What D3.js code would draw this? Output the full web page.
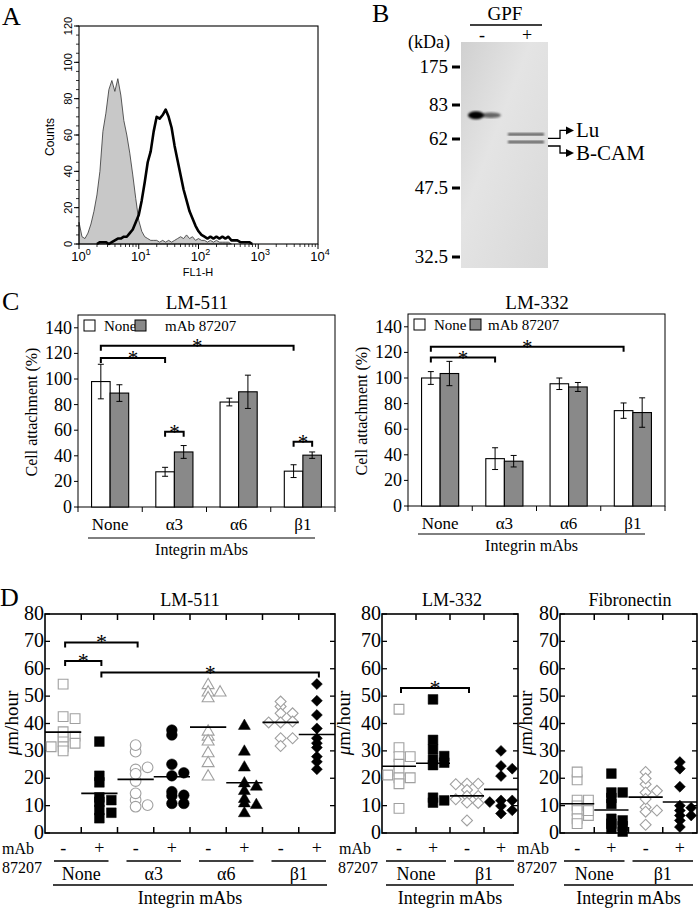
<!DOCTYPE html>
<html><head><meta charset="utf-8">
<script src="https://cdn.jsdelivr.net/npm/d3@7"></script>
<style>
body{margin:0;background:#fff}svg{display:block}
svg text{font-family:"Liberation Serif","Times New Roman",serif}
svg .sans text{font-family:"Liberation Sans",Arial,sans-serif}
</style>
</head><body><script>
// ================= DATA =================
// Panel A: flow cytometry histogram (x in log10 units of FL1-H)
const flowLogBins = [0,0.05,0.1,0.15,0.2,0.25,0.3,0.35,0.4,0.45,0.5,0.55,0.6,0.65,0.7,0.75,0.8,0.85,0.9,0.95,1,1.05,1.1,1.15,1.2,1.25,1.3,1.35,1.4,1.45,1.5,1.55,1.6,1.65,1.7,1.75,1.8,1.85,1.9,1.95,2,2.05,2.1,2.15,2.2,2.25,2.3,2.35,2.4,2.45,2.5,2.55,2.6,2.65,2.7,2.75,2.8,2.85,2.9,2.95,3];
const controlCounts = [12,4,3,6,11,18,27,40,62,72,85,90,84,91,82,68,60,50,38,25,13,7,4,3,2,2,2,1,2,1,2,1,2,3,4,3,5,3,4,2,3,2,2,1,2,1,2,1,1,1,1,0,null,null,null,null,null,null,null,null,null];
const stainedCounts = [null,null,null,null,null,null,0,1,1,1,0,1,2,3,3,4,4,6,8,12,16,24,34,45,51,62,70,69,71,74,70,64,54,46,38,30,24,18,14,10,7,5,4,3,4,3,4,3,4,3,4,2,2,2,1,1,1,1,0,null,null];
const countTicks = [0,20,40,60,80,100,120];
const decadeTicks = [1,10,100,1000,10000];

// Panel B: gel
const gelMarkers = [175,83,62,47.5,32.5];
const gelLanes = ['-','+'];
const gelBandLane = ['-','+','+'];
const gelBandKDa = [76,64.5,61];
const gelBandLabel = [null,'Lu','B-CAM'];

// Panel C: cell attachment (%)
const attachCats = ['None','α3','α6','β1'];
const attachTicks = [0,20,40,60,80,100,120,140];
const lm511Ctrl = [98,27.5,82,28];
const lm511CtrlErr = [13.5,3.5,3,5];
const lm511Mab = [89,43,90,40.5];
const lm511MabErr = [6.5,5,13,2.5];
const lm332Ctrl = [100,37,95.5,74.5];
const lm332CtrlErr = [5,8.5,4.5,6];
const lm332Mab = [103.5,35,93,73];
const lm332MabErr = [9.5,4.5,3.5,11.5];
const lm511GroupSig = [[0,1,116.5],[0,3,126]];
const lm511PairSig = [[1,58.7],[3,50.9]];
const lm332GroupSig = [[0,1,116],[0,3,124.5]];

// Panel D: migration speed (µm/hour)
const migTicks = [0,10,20,30,40,50,60,70,80];
const lm511Groups = ['None','α3','α6','β1'];
const lm511NoneCtrl = [54.4,42.5,37,35,33.3,31.5,30,41.8,35.4,32.8,31.5];
const lm511NoneMab = [33.4,18.5,13,11.4,8.4,5.4,20.9,12,7.4];
const lm511A3Ctrl = [29.7,23.2,19,12.1,9.6,32.1,21.6,10.2,24,14.5];
const lm511A3Mab = [35.8,25.1,20.9,15.1,13.6,10.8,37.6,22,13.8,10.8];
const lm511A6Ctrl = [54,51.3,49.2,35.2,29.1,20.6,51.3,37,33.4,25.5];
const lm511A6Mab = [39.1,29.7,23.9,18.1,15.3,10.8,7.2,16.9,12.4,10.2];
const lm511B1Ctrl = [46.2,43.7,40.4,34.6,31.8,48,43.7,40.7,40.4,34.6];
const lm511B1Mab = [54.4,48.3,38.2,32.8,27.9,23.3,43.1,34.6,31.2,26];
const lm511MigSig = [[0,2,69.6],[0,1,62.8],[1,7,58.6]];

const lm332Groups = ['None','β1'];
const lm332NoneCtrl = [45.2,31.2,27.9,25.1,22.6,20.2,18,9,27.9,20.2,21.2];
const lm332NoneMab = [48.8,30.6,26.9,24.8,12.9,11.1,34,28.1,25.7,11.9];
const lm332B1Ctrl = [18,15.7,13.5,11.1,4.6,18,17.8,13.5,12.3,11];
const lm332B1Mab = [30,24.5,20.8,11.9,9.9,7.1,23.5,11.9,11.3,8.3];
const lm332MigSig = [[0,2,53]];

const fnGroups = ['None','β1'];
const fnNoneCtrl = [19.4,12,9.9,8.2,5.2,3.4,22.3,12,6.4,8.2];
const fnNoneMab = [21.7,14.8,10.6,5.2,3.4,1.6,0.5,14.8,12.8,4.6,2.5];
const fnB1Ctrl = [22.3,17.8,14.8,9.4,7.8,3,19.9,15.4,12.4,8.2];
const fnB1Mab = [23.5,16.9,10,8.2,6.4,2.2,25.9,9.2,6.4,4.6];
const fnMigSig = [];

// ================= DRAWING =================
const svg = d3.select('body').append('svg').attr('width',700).attr('height',910);

[['A',2,25],['B',372,22],['C',2,310],['D',0,606]].forEach(([t,x,y])=>{
  svg.append('text').attr('x',x).attr('y',y).attr('font-size',26).text(t);
});

// ---------- Panel A ----------
(function(){
  const g = svg.append('g').attr('class','sans');
  const x = d3.scaleLog().domain([1,1e4]).range([79,318]);
  const y = d3.scaleLinear().domain([0,120]).range([244,26]);
  const ctrl = flowLogBins.map((b,i)=>({b,c:controlCounts[i]}));
  const st = flowLogBins.map((b,i)=>({b,c:stainedCounts[i]}));
  g.append('path')
    .attr('d', d3.area().defined(d=>d.c!=null).x(d=>x(Math.pow(10,d.b))).y0(y(0)).y1(d=>y(d.c))(ctrl))
    .attr('fill','#c8c8c8').attr('stroke','#333').attr('stroke-width',0.8);
  g.append('path')
    .attr('d', d3.line().defined(d=>d.c!=null).x(d=>x(Math.pow(10,d.b))).y(d=>y(d.c))(st))
    .attr('fill','none').attr('stroke','#000').attr('stroke-width',2.6).attr('stroke-linejoin','round');
  g.append('rect').attr('x',79).attr('y',26).attr('width',239).attr('height',218)
    .attr('fill','none').attr('stroke','#000').attr('stroke-width',1.1);
  const minor = [];
  decadeTicks.slice(0,-1).forEach(d=>{for(let k=2;k<10;k++) minor.push(d*k);});
  g.selectAll('.xm').data(minor).join('line').attr('x1',d=>x(d)).attr('x2',d=>x(d))
    .attr('y1',244).attr('y2',247).attr('stroke','#000').attr('stroke-width',0.8);
  g.selectAll('.xM').data(decadeTicks).join('line').attr('x1',d=>x(d)).attr('x2',d=>x(d))
    .attr('y1',244).attr('y2',249).attr('stroke','#000').attr('stroke-width',1);
  decadeTicks.forEach(d=>{
    const t = g.append('text').attr('x',x(d)+2).attr('y',261).attr('text-anchor','middle').attr('font-size',13);
    t.append('tspan').text('10');
    t.append('tspan').attr('dy',-6).attr('font-size',9).text(Math.round(Math.log10(d)));
  });
  g.append('text').attr('x',198).attr('y',276).attr('text-anchor','middle').attr('font-size',11).text('FL1-H');
  g.selectAll('.ym').data(y.ticks(24)).join('line').attr('x1',76).attr('x2',79)
    .attr('y1',d=>y(d)).attr('y2',d=>y(d)).attr('stroke','#000').attr('stroke-width',0.8);
  g.selectAll('.yM').data(countTicks).join('line').attr('x1',74).attr('x2',79)
    .attr('y1',d=>y(d)).attr('y2',d=>y(d)).attr('stroke','#000').attr('stroke-width',1);
  countTicks.forEach(v=>{
    g.append('text').attr('transform',`translate(72,${y(v)}) rotate(-90)`)
      .attr('text-anchor','middle').attr('font-size',11).text(v);
  });
  g.append('text').attr('transform','translate(54,137) rotate(-90)').attr('text-anchor','middle')
    .attr('font-size',12).text('Counts');
})();

// ---------- Panel B ----------
(function(){
  const g = svg.append('g');
  const defs = svg.append('defs');
  defs.append('filter').attr('id','blur2').append('feGaussianBlur').attr('stdDeviation',0.8);
  const grad = defs.append('linearGradient').attr('id','gelg').attr('x1',0).attr('x2',1).attr('y1',0).attr('y2',1);
  grad.append('stop').attr('offset',0).attr('stop-color','#d0d0d0');
  grad.append('stop').attr('offset',0.4).attr('stop-color','#e4e4e4');
  grad.append('stop').attr('offset',1).attr('stop-color','#d8d8d8');
  const ky = d3.scaleLinear().domain(gelMarkers.map(Math.log)).range([67,105,139,188,257]);
  const lx = d3.scalePoint().domain(gelLanes).range([482,527]);
  g.append('rect').attr('x',461).attr('y',42).attr('width',87).attr('height',226).attr('fill','url(#gelg)');
  gelBandLane.forEach((ln,i)=>{
    const by = ky(Math.log(gelBandKDa[i]));
    if(ln==='-'){
      g.append('ellipse').attr('cx',lx(ln)+9).attr('cy',by).attr('rx',10).attr('ry',2.8)
        .attr('fill','#444').attr('opacity',0.8).attr('filter','url(#blur2)');
      g.append('ellipse').attr('cx',lx(ln)-6).attr('cy',by).attr('rx',8).attr('ry',4)
        .attr('fill','#000').attr('filter','url(#blur2)');
    } else {
      g.append('rect').attr('x',lx(ln)-19).attr('y',by-1.3).attr('width',36).attr('height',2.6)
        .attr('fill','#555').attr('filter','url(#blur2)');
    }
  });
  gelMarkers.forEach(m=>{
    g.append('line').attr('x1',452).attr('x2',460).attr('y1',ky(Math.log(m))).attr('y2',ky(Math.log(m)))
      .attr('stroke','#000').attr('stroke-width',3);
    g.append('text').attr('x',448).attr('y',ky(Math.log(m))+6).attr('text-anchor','end')
      .attr('font-size',19).text(m);
  });
  g.append('text').attr('x',450).attr('y',48).attr('text-anchor','end').attr('font-size',18).text('(kDa)');
  g.append('text').attr('x',505).attr('y',20).attr('text-anchor','middle').attr('font-size',19).text('GPF');
  g.append('line').attr('x1',470).attr('x2',542).attr('y1',25).attr('y2',25).attr('stroke','#000').attr('stroke-width',1.3);
  gelLanes.forEach(l=>{
    g.append('text').attr('x',lx(l)).attr('y',41).attr('text-anchor','middle').attr('font-size',18).text(l);
  });
  gelBandLabel.forEach((lab,i)=>{
    if(!lab) return;
    const by = ky(Math.log(gelBandKDa[i]))+4;
    const ty = lab==='Lu' ? by-8 : by+7;
    g.append('path').attr('d',`M548,${by}H560V${ty}H568`).attr('fill','none').attr('stroke','#000').attr('stroke-width',1.3);
    g.append('path').attr('d',`M566,${ty-4}L574,${ty}L566,${ty+4}Z`).attr('fill','#000');
    g.append('text').attr('x',576).attr('y',ty+7).attr('font-size',21).text(lab);
  });
})();

// ---------- Panel C ----------
function attachPanel(o){
  const g = svg.append('g');
  const x = d3.scaleBand().domain(attachCats).range([o.x0,o.x1]);
  const y = d3.scaleLinear().domain([0,150]).range([o.yBot,o.yTop]);
  const bw = x.bandwidth();
  const sub = d3.scaleBand().domain(['ctrl','mab']).range([bw*0.211,bw*0.789]);
  g.append('rect').attr('x',o.x0).attr('y',o.yTop).attr('width',o.x1-o.x0).attr('height',o.yBot-o.yTop)
    .attr('fill','none').attr('stroke','#000').attr('stroke-width',1);
  const series = [['ctrl',o.ctrl,o.ctrlErr,'#fff'],['mab',o.mab,o.mabErr,'#898989']];
  series.forEach(([k,vals,errs,fill])=>{
    attachCats.forEach((c,i)=>{
      const bx = x(c)+sub(k);
      g.append('rect').attr('x',bx).attr('y',y(vals[i])).attr('width',sub.bandwidth()).attr('height',y(0)-y(vals[i]))
        .attr('fill',fill).attr('stroke','#000').attr('stroke-width',1.1);
      const cx = bx+sub.bandwidth()/2;
      const e1 = y(vals[i]+errs[i]), e0 = y(vals[i]-errs[i]);
      g.append('line').attr('x1',cx).attr('x2',cx).attr('y1',e1).attr('y2',e0).attr('stroke','#000').attr('stroke-width',1);
      [e1,e0].forEach(ey=>g.append('line').attr('x1',cx-3).attr('x2',cx+3).attr('y1',ey).attr('y2',ey).attr('stroke','#000').attr('stroke-width',1));
    });
  });
  attachTicks.forEach(v=>{
    g.append('line').attr('x1',o.x0-4).attr('x2',o.x0).attr('y1',y(v)).attr('y2',y(v)).attr('stroke','#000');
    g.append('text').attr('x',o.x0-6).attr('y',y(v)+6).attr('text-anchor','end').attr('font-size',18).text(v);
  });
  attachCats.concat(['end']).forEach((c,i)=>{
    const bx = i<attachCats.length ? x(c) : o.x1;
    g.append('line').attr('x1',bx).attr('x2',bx).attr('y1',o.yBot).attr('y2',o.yBot+5).attr('stroke','#000');
  });
  attachCats.forEach(c=>{
    g.append('text').attr('x',x(c)+bw/2).attr('y',o.yBot+23).attr('text-anchor','middle').attr('font-size',17).text(c);
  });
  g.append('line').attr('x1',o.x0+10).attr('x2',o.x1-20).attr('y1',o.yBot+o.lineDy).attr('y2',o.yBot+o.lineDy).attr('stroke','#000').attr('stroke-width',1);
  g.append('text').attr('x',(o.x0+o.x1)/2-5).attr('y',o.yBot+o.lineDy+17).attr('text-anchor','middle').attr('font-size',16).text('Integrin mAbs');
  g.append('text').attr('x',o.titleX).attr('y',309).attr('text-anchor','middle').attr('font-size',19).text(o.title);
  g.append('text').attr('transform',`translate(${o.x0-41},${(o.yTop+o.yBot)/2+1}) rotate(-90)`)
    .attr('text-anchor','middle').attr('font-size',16).text('Cell attachment (%)');
  const ly = o.yTop+5;
  g.append('rect').attr('x',o.x0+6).attr('y',ly).attr('width',11).attr('height',11).attr('fill','#fff').attr('stroke','#000');
  g.append('text').attr('x',o.x0+26).attr('y',ly+11).attr('font-size',15).text('None');
  g.append('rect').attr('x',o.x0+o.legGray).attr('y',ly).attr('width',11).attr('height',11).attr('fill','#898989').attr('stroke','#000');
  g.append('text').attr('x',o.x0+o.legGray+o.legGap).attr('y',ly+11).attr('font-size',15).text('mAb 87207');
  const wc = c=>x(attachCats[c])+sub('ctrl')+sub.bandwidth()/2;
  const mc = c=>x(attachCats[c])+sub('mab')+sub.bandwidth()/2;
  const bracket = (xa,xb,v)=>{
    const by = y(v);
    g.append('path').attr('d',`M${xa},${by+5}V${by}H${xb}V${by+5}`).attr('fill','none').attr('stroke','#000').attr('stroke-width',2);
    g.append('text').attr('x',(xa+xb)/2).attr('y',by+7).attr('text-anchor','middle').attr('font-size',21).text('*');
  };
  o.groupSig.forEach(([a,b,v])=>bracket(wc(a),wc(b),v));
  o.pairSig.forEach(([c,v])=>bracket(wc(c),mc(c),v));
}
attachPanel({x0:78,x1:335,yTop:315,yBot:507,title:'LM-511',titleX:197,ctrl:lm511Ctrl,ctrlErr:lm511CtrlErr,mab:lm511Mab,mabErr:lm511MabErr,groupSig:lm511GroupSig,pairSig:lm511PairSig,legGray:57,legGap:30,lineDy:31});
attachPanel({x0:408,x1:665,yTop:314,yBot:506,title:'LM-332',titleX:537,ctrl:lm332Ctrl,ctrlErr:lm332CtrlErr,mab:lm332Mab,mabErr:lm332MabErr,groupSig:lm332GroupSig,pairSig:[],legGray:62,legGap:18,lineDy:28});

// ---------- Panel D ----------
function dodge(vals,y,thr){
  const placed=[], order=[0,1,-1,2,-2];
  return vals.map(v=>{
    const py=y(v);
    for(const s of order){
      if(!placed.some(p=>p.s===s && Math.abs(p.py-py)<thr)){placed.push({s,py});return {v,py,s};}
    }
    placed.push({s:0,py}); return {v,py,s:0};
  });
}
const shapeOf = {None:'square','α3':'circle','α6':'triangle','β1':'diamond'};
function markerPath(shape){
  if(shape==='square') return d3.symbol(d3.symbolSquare,95)();
  if(shape==='circle') return d3.symbol(d3.symbolCircle,90)();
  if(shape==='triangle') return d3.symbol(d3.symbolTriangle,62)();
  return d3.symbol(d3.symbolSquare,60)();
}
function migPanel(o){
  const g = svg.append('g');
  const colKeys = [];
  o.groups.forEach(gr=>['-','+'].forEach(t=>colKeys.push(gr+t)));
  const x = d3.scaleBand().domain(colKeys).range([o.x0,o.x1]);
  const y = d3.scaleLinear().domain([0,80]).range([833,614]);
  const bw = x.bandwidth();
  g.append('rect').attr('x',o.x0).attr('y',614).attr('width',o.x1-o.x0).attr('height',219)
    .attr('fill','none').attr('stroke','#000').attr('stroke-width',1.6);
  colKeys.slice(1).forEach(k=>{
    g.append('line').attr('x1',x(k)).attr('x2',x(k)).attr('y1',614).attr('y2',620).attr('stroke','#000').attr('stroke-width',1.5);
    g.append('line').attr('x1',x(k)).attr('x2',x(k)).attr('y1',833).attr('y2',827).attr('stroke','#000').attr('stroke-width',1.5);
  });
  migTicks.forEach(v=>{
    g.append('line').attr('x1',o.x0).attr('x2',o.x0+5).attr('y1',y(v)).attr('y2',y(v)).attr('stroke','#000').attr('stroke-width',1.3);
    g.append('line').attr('x1',o.x1-5).attr('x2',o.x1).attr('y1',y(v)).attr('y2',y(v)).attr('stroke','#000').attr('stroke-width',1.3);
    g.append('text').attr('x',o.x0-1).attr('y',y(v)+6).attr('text-anchor','end').attr('font-size',20).text(v);
  });
  colKeys.forEach((k,i)=>{
    const vals = o.series[i];
    const shape = shapeOf[o.groups[Math.floor(i/2)]];
    const filled = i%2===1;
    const cx = x(k)+bw/2;
    dodge(vals,y,4).forEach(p=>{
      g.append('path').attr('d',markerPath(shape))
        .attr('transform',`translate(${cx+p.s*bw*0.33},${p.py})`+(shape==='diamond'?' rotate(45)':''))
        .attr('fill',filled?'#000':'#fff').attr('stroke',filled?'#000':'#a0a0a0').attr('stroke-width',filled?0.5:1.1);
    });
    const m = d3.mean(vals);
    g.append('line').attr('x1',x(k)).attr('x2',x(k)+bw).attr('y1',y(m)).attr('y2',y(m)).attr('stroke','#000').attr('stroke-width',1.6);
  });
  o.sig.forEach(([a,b,v])=>{
    const xa = x(colKeys[a])+bw/2+2, xb = x(colKeys[b])+bw/2+2, by=y(v);
    g.append('path').attr('d',`M${xa},${by+5}V${by}H${xb}V${by+5}`).attr('fill','none').attr('stroke','#000').attr('stroke-width',2);
    g.append('text').attr('x',(xa+xb)/2).attr('y',by+7).attr('text-anchor','middle').attr('font-size',22).text('*');
  });
  colKeys.forEach((k,i)=>{
    g.append('text').attr('x',x(k)+bw/2).attr('y',854).attr('text-anchor','middle').attr('font-size',18).text(i%2?'+':'-');
  });
  o.groups.forEach((gr,j)=>{
    const a = x(colKeys[2*j]), b = x(colKeys[2*j+1])+bw;
    g.append('line').attr('x1',a+o.pairPad).attr('x2',b-o.pairPad).attr('y1',861).attr('y2',861).attr('stroke','#000').attr('stroke-width',1.3);
    g.append('text').attr('x',(a+b)/2).attr('y',880).attr('text-anchor','middle').attr('font-size',18).text(gr);
  });
  g.append('line').attr('x1',o.x0+o.longPad).attr('x2',o.x1-o.longPad).attr('y1',885).attr('y2',885).attr('stroke','#000').attr('stroke-width',1.3);
  g.append('text').attr('x',(o.x0+o.x1)/2).attr('y',904).attr('text-anchor','middle').attr('font-size',18).text('Integrin mAbs');
  g.append('text').attr('x',o.titleX).attr('y',606).attr('text-anchor','middle').attr('font-size',18).text(o.title);
  g.append('text').attr('x',o.labX).attr('y',854).attr('text-anchor','middle').attr('font-size',16).text('mAb');
  g.append('text').attr('x',o.lab2X).attr('y',873).attr('text-anchor','middle').attr('font-size',16).text('87207');
  const yl = g.append('text').attr('transform',`translate(${o.yLabX},723) rotate(-90)`).attr('text-anchor','middle').attr('font-size',19);
  yl.append('tspan').attr('font-style','italic').text('μ');
  yl.append('tspan').text('m/hour');
}
migPanel({x0:45,x1:335,title:'LM-511',titleX:190,groups:lm511Groups,
  series:[lm511NoneCtrl,lm511NoneMab,lm511A3Ctrl,lm511A3Mab,lm511A6Ctrl,lm511A6Mab,lm511B1Ctrl,lm511B1Mab],
  sig:lm511MigSig,labX:18,lab2X:22,yLabX:18,pairPad:9,longPad:8});
migPanel({x0:382,x1:518,title:'LM-332',titleX:452,groups:lm332Groups,
  series:[lm332NoneCtrl,lm332NoneMab,lm332B1Ctrl,lm332B1Mab],
  sig:lm332MigSig,labX:355,lab2X:358,yLabX:350,pairPad:4,longPad:4});
migPanel({x0:560,x1:697,title:'Fibronectin',titleX:630,groups:fnGroups,
  series:[fnNoneCtrl,fnNoneMab,fnB1Ctrl,fnB1Mab],
  sig:fnMigSig,labX:533,lab2X:537,yLabX:532,pairPad:4,longPad:4});
</script></body></html>
